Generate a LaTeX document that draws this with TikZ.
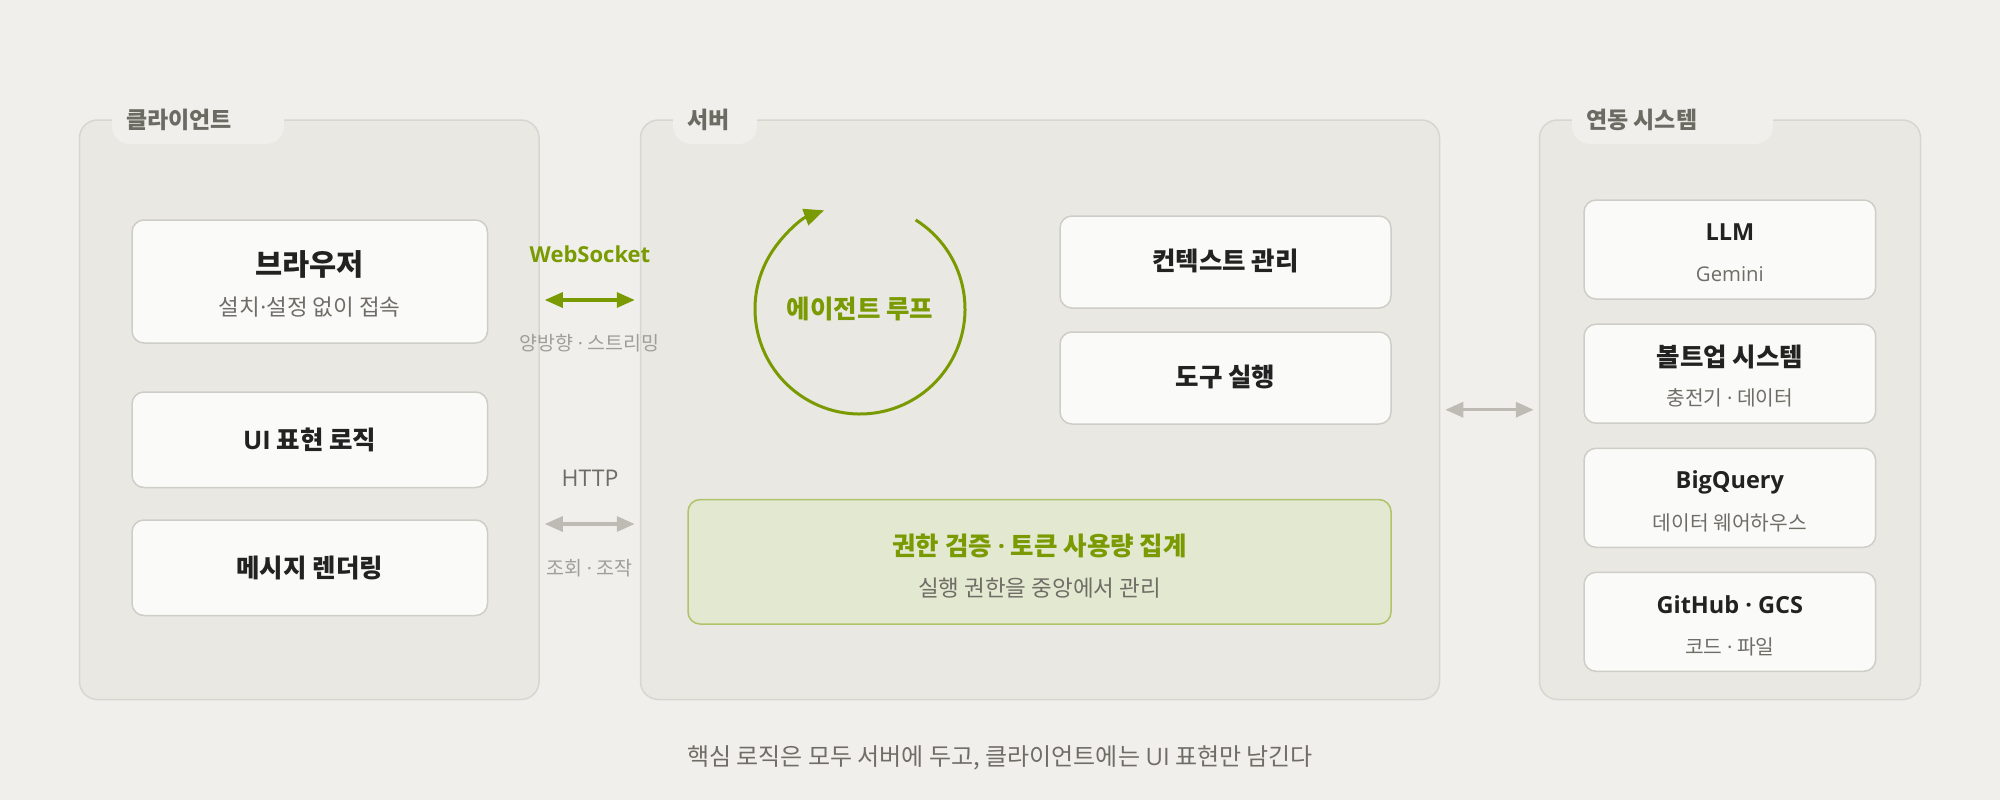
\documentclass[tikz,border=0pt]{standalone}
\usepackage{fontspec}
\setmainfont{Noto Sans CJK KR}
\newfontfamily\latf{Open Sans}
\newcommand\krdot{{\latf ·}}
\usetikzlibrary{arrows.meta}
\definecolor{pagebg}{HTML}{F0EFEB}
\definecolor{groupbg}{HTML}{E9E8E3}
\definecolor{groupline}{HTML}{D8D6D0}
\definecolor{cardbg}{HTML}{FAFAF8}
\definecolor{cardline}{HTML}{CFCDC7}
\definecolor{olive}{HTML}{7A9A01}
\definecolor{authbg}{HTML}{E3E8D0}
\definecolor{authline}{HTML}{AFC46A}
\definecolor{arrgray}{HTML}{BDBBB4}
\definecolor{titlec}{HTML}{222222}
\definecolor{subc}{HTML}{6F6D66}
\definecolor{tabc}{HTML}{6B6A63}
\definecolor{lightc}{HTML}{A09E98}
\definecolor{httpc}{HTML}{6E6C66}
\tikzset{
  group/.style={draw=groupline, line width=1.5pt, fill=groupbg, rounded corners=18pt, inner sep=0pt},
  card/.style={draw=cardline, line width=1.5pt, fill=cardbg, rounded corners=12pt, inner sep=0pt},
  authbox/.style={draw=authline, line width=1.5pt, fill=authbg, rounded corners=12pt, inner sep=0pt},
  tabbg/.style={fill=pagebg, rounded corners=18pt},
  tabtext/.style={anchor=west, inner sep=0pt, text=tabc, font=\fontsize{23}{27}\selectfont\bfseries},
  ttl/.style={inner sep=0pt, text=titlec, font=\fontsize{25.5}{30}\selectfont\bfseries},
  latttl/.style={inner sep=0pt, text=titlec, font=\latf\fontsize{23.5}{28}\selectfont\bfseries},
  bigttl/.style={inner sep=0pt, text=titlec, font=\fontsize{29.5}{33}\selectfont\bfseries},
  sub/.style={inner sep=0pt, text=subc, font=\fontsize{22.5}{26}\selectfont},
  extsub/.style={inner sep=0pt, text=subc, font=\fontsize{20.3}{24}\selectfont},
  lbl/.style={inner sep=0pt, text=lightc, font=\fontsize{19.5}{24}\selectfont},
  greenttl/.style={inner sep=0pt, text=olive, font=\fontsize{25.5}{30}\selectfont\bfseries},
  wsarr/.style={draw=olive, line width=3.2pt, {Triangle[length=18pt,width=15pt]}-{Triangle[length=18pt,width=15pt]}, shorten <=5pt, shorten >=5pt},
  grayarr/.style={draw=arrgray, line width=3.2pt, {Triangle[length=18pt,width=15pt]}-{Triangle[length=18pt,width=15pt]}, shorten <=5pt, shorten >=5pt},
  looparr/.style={draw=olive, line width=3pt, -{Triangle[length=20pt,width=17pt]}}
}
\begin{document}
\begin{tikzpicture}[x=1pt,y=-1pt]
\fill[pagebg] (0,0) rectangle (2000,800);
\useasboundingbox (0,0) rectangle (2000,800);

% groups
\node[group, minimum width=459.5pt, minimum height=579.5pt] (client) at (309.25,409.75) {};
\node[group, minimum width=799pt, minimum height=579.5pt] (server) at (1040,409.75) {};
\node[group, minimum width=381pt, minimum height=579.5pt] (ext) at (1730,409.75) {};

% tabs
\fill[tabbg] (112,98) rectangle (284,144);
\node[tabtext] (clientt) at (126,120) {클라이언트};
\fill[tabbg] (673,98) rectangle (757,144);
\node[tabtext] (servert) at (687,120) {서버};
\fill[tabbg] (1572,98) rectangle (1773,144);
\node[tabtext] (extt) at (1586,120) {연동 시스템};

% client cards
\node[card, minimum width=355.5pt, minimum height=123pt] (browser) at (309.75,281.5) {};
\node[bigttl] (browsert) at (309.75,264) {브라우저};
\node[sub] (browsers) at (309.75,307.5) {설치\krdot 설정 없이 접속};
\node[card, minimum width=355.5pt, minimum height=95.5pt] (ui) at (309.75,439.75) {};
\node[ttl] (uit) at (309.75,439.5) {{\latf UI} 표현 로직};
\node[card, minimum width=355.5pt, minimum height=95.5pt] (msg) at (309.75,567.75) {};
\node[ttl] (msgt) at (309.75,568) {메시지 렌더링};

% server content
\coordinate (loopc) at (860,309);
\draw[looparr] ([shift={(58:105pt)}]loopc) arc[start angle=58, end angle=-250, radius=105pt];
\node[greenttl] (loopt) at (loopc) {에이전트 루프};
\node[card, minimum width=331pt, minimum height=92pt] (ctx) at (1225.5,262) {};
\node[ttl] (ctxt) at (1225.5,261) {컨텍스트 관리};
\node[card, minimum width=331pt, minimum height=92pt] (tool) at (1225.5,378) {};
\node[ttl] (toolt) at (1225.5,377) {도구 실행};
\node[authbox, minimum width=703pt, minimum height=124.4pt] (auth) at (1039.5,561.8) {};
\node[greenttl] (autht) at (1039.5,545.5) {권한 검증 \krdot{} 토큰 사용량 집계};
\node[sub] (auths) at (1039.5,588) {실행 권한을 중앙에서 관리};

% external cards
\node[card, minimum width=291.7pt, minimum height=99pt] (llm) at (1729.85,249.5) {};
\node[latttl] (llmt) at (1729.85,232) {LLM};
\node[extsub, font=\latf\fontsize{20.3}{24}\selectfont] (llms) at (1729.85,274) {Gemini};
\node[card, minimum width=291.7pt, minimum height=99pt] (bolt) at (1729.85,373.7) {};
\node[ttl] (boltt) at (1729.85,356.6) {볼트업 시스템};
\node[extsub] (bolts) at (1729.85,398) {충전기 \krdot{} 데이터};
\node[card, minimum width=291.7pt, minimum height=99pt] (bq) at (1729.85,497.8) {};
\node[latttl] (bqt) at (1729.85,482) {BigQuery};
\node[extsub] (bqs) at (1729.85,523) {데이터 웨어하우스};
\node[card, minimum width=291.7pt, minimum height=99pt] (gh) at (1729.85,621.8) {};
\node[latttl] (ght) at (1729.85,605) {GitHub · GCS};
\node[extsub] (ghs) at (1729.85,646.7) {코드 \krdot{} 파일};

% connectors
\coordinate (wsrow) at (590,300);
\coordinate (httprow) at (590,524);
\draw[wsarr] (client.east |- wsrow) -- (server.west |- wsrow);
\draw[grayarr] (client.east |- httprow) -- (server.west |- httprow);
\draw[grayarr] (server.east) -- (ext.west);
\node[inner sep=0pt, text=olive, font=\latf\fontsize{22}{26}\selectfont\bfseries] (wsl) at (590,254) {WebSocket};
\node[lbl] (wss) at (589.5,343) {양방향 \krdot{} 스트리밍};
\node[inner sep=0pt, text=httpc, font=\latf\fontsize{23}{27}\selectfont] (httpl) at (590,478) {HTTP};
\node[lbl] (https) at (589.5,568) {조회 \krdot{} 조작};

% footnote
\node[inner sep=0pt, text=subc, font=\fontsize{24}{28}\selectfont] (foot) at (1000,758) {핵심 로직은 모두 서버에 두고, 클라이언트에는 {\latf UI} 표현만 남긴다};
\end{tikzpicture}
\end{document}
